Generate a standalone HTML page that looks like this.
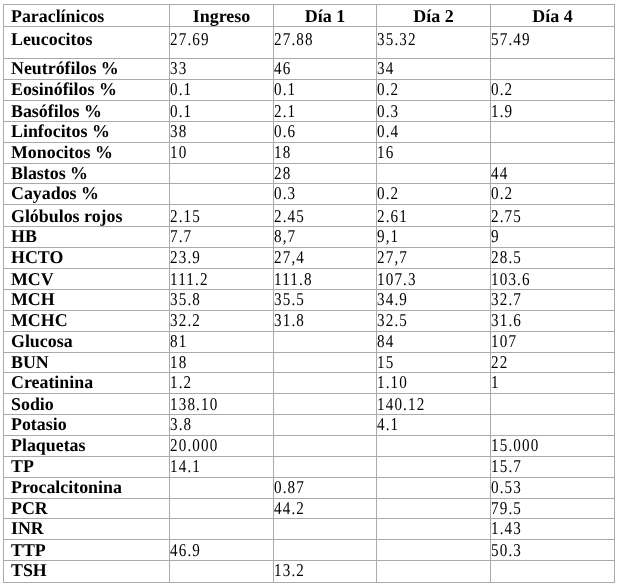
<!DOCTYPE html>
<html><head><meta charset="utf-8"><style>
html,body{margin:0;padding:0;background:#fff;width:621px;height:588px;overflow:hidden}
#wrap{position:absolute;left:0;top:0;width:621px;height:588px;will-change:transform;background:#fff}
.h{position:absolute;left:3px;width:612px;height:1px;background:#acaaa5}
.v{position:absolute;top:4px;width:1px;height:579px;background:#acaaa5}
.t{position:absolute;font-family:"Liberation Serif",serif;font-size:18px;line-height:18px;white-space:nowrap;color:#000;text-rendering:geometricPrecision;transform-origin:0 15px}
.b{font-weight:bold;transform:scaleX(0.993);letter-spacing:0.0px}
.c{text-align:center;transform:none;letter-spacing:0}
.n{font-weight:normal;transform:scaleX(0.84);letter-spacing:1.36px}
</style></head><body><div id="wrap">
<div class="h" style="top:4px"></div>
<div class="h" style="top:26px"></div>
<div class="h" style="top:58px"></div>
<div class="h" style="top:79px"></div>
<div class="h" style="top:100px"></div>
<div class="h" style="top:121px"></div>
<div class="h" style="top:142px"></div>
<div class="h" style="top:163px"></div>
<div class="h" style="top:183px"></div>
<div class="h" style="top:204px"></div>
<div class="h" style="top:226px"></div>
<div class="h" style="top:247px"></div>
<div class="h" style="top:268px"></div>
<div class="h" style="top:289px"></div>
<div class="h" style="top:310px"></div>
<div class="h" style="top:331px"></div>
<div class="h" style="top:352px"></div>
<div class="h" style="top:372px"></div>
<div class="h" style="top:393px"></div>
<div class="h" style="top:414px"></div>
<div class="h" style="top:435px"></div>
<div class="h" style="top:456px"></div>
<div class="h" style="top:477px"></div>
<div class="h" style="top:498px"></div>
<div class="h" style="top:518px"></div>
<div class="h" style="top:539px"></div>
<div class="h" style="top:560px"></div>
<div class="h" style="top:582px"></div>
<div class="v" style="left:3px"></div>
<div class="v" style="left:169px"></div>
<div class="v" style="left:273px"></div>
<div class="v" style="left:376px"></div>
<div class="v" style="left:490px"></div>
<div class="v" style="left:614px"></div>
<div class="t b" style="left:11.0px;top:7.0px">Paraclínicos</div>
<div class="t b c" style="left:170px;width:103px;top:7.0px">Ingreso</div>
<div class="t b c" style="left:274px;width:102px;top:7.0px">Día 1</div>
<div class="t b c" style="left:377px;width:113px;top:7.0px">Día 2</div>
<div class="t b c" style="left:491px;width:123px;top:7.0px">Día 4</div>
<div class="t b" style="left:11.0px;top:30.0px">Leucocitos</div>
<div class="t n" style="left:170.0px;top:30.0px">27.69</div>
<div class="t n" style="left:274.0px;top:30.0px">27.88</div>
<div class="t n" style="left:377.0px;top:30.0px">35.32</div>
<div class="t n" style="left:491.0px;top:30.0px">57.49</div>
<div class="t b" style="left:11.0px;top:59.0px">Neutrófilos %</div>
<div class="t n" style="left:170.0px;top:59.0px">33</div>
<div class="t n" style="left:274.0px;top:59.0px">46</div>
<div class="t n" style="left:377.0px;top:59.0px">34</div>
<div class="t b" style="left:11.0px;top:80.0px">Eosinófilos %</div>
<div class="t n" style="left:170.0px;top:80.0px">0.1</div>
<div class="t n" style="left:274.0px;top:80.0px">0.1</div>
<div class="t n" style="left:377.0px;top:80.0px">0.2</div>
<div class="t n" style="left:491.0px;top:80.0px">0.2</div>
<div class="t b" style="left:11.0px;top:102.0px">Basófilos %</div>
<div class="t n" style="left:170.0px;top:102.0px">0.1</div>
<div class="t n" style="left:274.0px;top:102.0px">2.1</div>
<div class="t n" style="left:377.0px;top:102.0px">0.3</div>
<div class="t n" style="left:491.0px;top:102.0px">1.9</div>
<div class="t b" style="left:11.0px;top:122.0px">Linfocitos %</div>
<div class="t n" style="left:170.0px;top:122.0px">38</div>
<div class="t n" style="left:274.0px;top:122.0px">0.6</div>
<div class="t n" style="left:377.0px;top:122.0px">0.4</div>
<div class="t b" style="left:11.0px;top:143.0px">Monocitos %</div>
<div class="t n" style="left:170.0px;top:143.0px">10</div>
<div class="t n" style="left:274.0px;top:143.0px">18</div>
<div class="t n" style="left:377.0px;top:143.0px">16</div>
<div class="t b" style="left:11.0px;top:164.0px">Blastos %</div>
<div class="t n" style="left:274.0px;top:164.0px">28</div>
<div class="t n" style="left:491.0px;top:164.0px">44</div>
<div class="t b" style="left:11.0px;top:184.0px">Cayados %</div>
<div class="t n" style="left:274.0px;top:184.0px">0.3</div>
<div class="t n" style="left:377.0px;top:184.0px">0.2</div>
<div class="t n" style="left:491.0px;top:184.0px">0.2</div>
<div class="t b" style="left:11.0px;top:207.0px">Glóbulos rojos</div>
<div class="t n" style="left:170.0px;top:207.0px">2.15</div>
<div class="t n" style="left:274.0px;top:207.0px">2.45</div>
<div class="t n" style="left:377.0px;top:207.0px">2.61</div>
<div class="t n" style="left:491.0px;top:207.0px">2.75</div>
<div class="t b" style="left:11.0px;top:227.0px">HB</div>
<div class="t n" style="left:170.0px;top:227.0px">7.7</div>
<div class="t n" style="left:274.0px;top:227.0px">8,7</div>
<div class="t n" style="left:377.0px;top:227.0px">9,1</div>
<div class="t n" style="left:491.0px;top:227.0px">9</div>
<div class="t b" style="left:11.0px;top:248.0px">HCTO</div>
<div class="t n" style="left:170.0px;top:248.0px">23.9</div>
<div class="t n" style="left:274.0px;top:248.0px">27,4</div>
<div class="t n" style="left:377.0px;top:248.0px">27,7</div>
<div class="t n" style="left:491.0px;top:248.0px">28.5</div>
<div class="t b" style="left:11.0px;top:270.0px">MCV</div>
<div class="t n" style="left:170.0px;top:270.0px">111.2</div>
<div class="t n" style="left:274.0px;top:270.0px">111.8</div>
<div class="t n" style="left:377.0px;top:270.0px">107.3</div>
<div class="t n" style="left:491.0px;top:270.0px">103.6</div>
<div class="t b" style="left:11.0px;top:290.0px">MCH</div>
<div class="t n" style="left:170.0px;top:290.0px">35.8</div>
<div class="t n" style="left:274.0px;top:290.0px">35.5</div>
<div class="t n" style="left:377.0px;top:290.0px">34.9</div>
<div class="t n" style="left:491.0px;top:290.0px">32.7</div>
<div class="t b" style="left:11.0px;top:311.0px">MCHC</div>
<div class="t n" style="left:170.0px;top:311.0px">32.2</div>
<div class="t n" style="left:274.0px;top:311.0px">31.8</div>
<div class="t n" style="left:377.0px;top:311.0px">32.5</div>
<div class="t n" style="left:491.0px;top:311.0px">31.6</div>
<div class="t b" style="left:11.0px;top:332.0px">Glucosa</div>
<div class="t n" style="left:170.0px;top:332.0px">81</div>
<div class="t n" style="left:377.0px;top:332.0px">84</div>
<div class="t n" style="left:491.0px;top:332.0px">107</div>
<div class="t b" style="left:11.0px;top:353.0px">BUN</div>
<div class="t n" style="left:170.0px;top:353.0px">18</div>
<div class="t n" style="left:377.0px;top:353.0px">15</div>
<div class="t n" style="left:491.0px;top:353.0px">22</div>
<div class="t b" style="left:11.0px;top:373.0px">Creatinina</div>
<div class="t n" style="left:170.0px;top:373.0px">1.2</div>
<div class="t n" style="left:377.0px;top:373.0px">1.10</div>
<div class="t n" style="left:491.0px;top:373.0px">1</div>
<div class="t b" style="left:11.0px;top:395.0px">Sodio</div>
<div class="t n" style="left:170.0px;top:395.0px">138.10</div>
<div class="t n" style="left:377.0px;top:395.0px">140.12</div>
<div class="t b" style="left:11.0px;top:415.0px">Potasio</div>
<div class="t n" style="left:170.0px;top:415.0px">3.8</div>
<div class="t n" style="left:377.0px;top:415.0px">4.1</div>
<div class="t b" style="left:11.0px;top:436.0px">Plaquetas</div>
<div class="t n" style="left:170.0px;top:436.0px">20.000</div>
<div class="t n" style="left:491.0px;top:436.0px">15.000</div>
<div class="t b" style="left:11.0px;top:457.0px">TP</div>
<div class="t n" style="left:170.0px;top:457.0px">14.1</div>
<div class="t n" style="left:491.0px;top:457.0px">15.7</div>
<div class="t b" style="left:11.0px;top:478.0px">Procalcitonina</div>
<div class="t n" style="left:274.0px;top:478.0px">0.87</div>
<div class="t n" style="left:491.0px;top:478.0px">0.53</div>
<div class="t b" style="left:11.0px;top:499.0px">PCR</div>
<div class="t n" style="left:274.0px;top:499.0px">44.2</div>
<div class="t n" style="left:491.0px;top:499.0px">79.5</div>
<div class="t b" style="left:11.0px;top:519.0px">INR</div>
<div class="t n" style="left:491.0px;top:519.0px">1.43</div>
<div class="t b" style="left:11.0px;top:541.0px">TTP</div>
<div class="t n" style="left:170.0px;top:541.0px">46.9</div>
<div class="t n" style="left:491.0px;top:541.0px">50.3</div>
<div class="t b" style="left:11.0px;top:561.0px">TSH</div>
<div class="t n" style="left:274.0px;top:561.0px">13.2</div>
</div></body></html>
